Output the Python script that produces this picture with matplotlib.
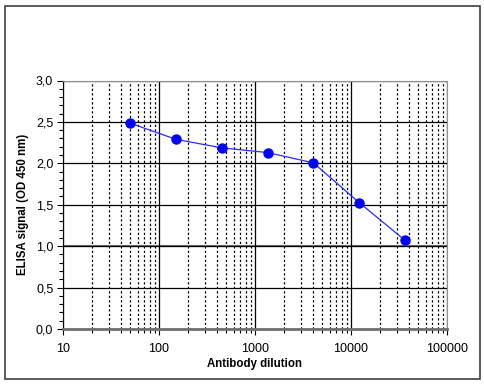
import matplotlib
matplotlib.use('Agg')
import matplotlib.pyplot as plt
from matplotlib.ticker import FuncFormatter, LogLocator, MultipleLocator
from matplotlib.patches import Rectangle

# Data
dilution = [50, 150, 450, 1350, 4050, 12150, 36450]
signal = [2.485, 2.29, 2.187, 2.13, 2.006, 1.526, 1.071]

plt.rcParams['font.family'] = ['Liberation Sans', 'DejaVu Sans']

fig = plt.figure(figsize=(4.85, 3.84), dpi=100)
fig.patch.set_facecolor('white')
fig.patches.append(Rectangle((5 / 485, 5 / 384), 475 / 485, 373 / 384,
                             transform=fig.transFigure, fill=False,
                             edgecolor='#404040', linewidth=1.2))

ax = fig.add_axes([63 / 485, 55 / 384, 384 / 485, 248.5 / 384])
ax.set_xscale('log')
ax.set_xlim(10, 100000)
ax.set_ylim(0, 3.0)

# grid
ax.xaxis.set_major_locator(LogLocator(base=10, numticks=10))
ax.xaxis.set_minor_locator(LogLocator(base=10, subs=range(2, 10), numticks=10))
ax.yaxis.set_major_locator(MultipleLocator(0.5))
ax.yaxis.set_minor_locator(MultipleLocator(0.1))
ax.grid(which='major', axis='both', color='black', linewidth=0.9, linestyle='-')
ax.grid(which='minor', axis='x', color='black', linewidth=0.9, linestyle=(0, (1.8, 1.8)))
ax.axhline(1.0, color='#707070', linewidth=1.5, zorder=1)

ax.plot(dilution, signal, color='#2a2aff', linewidth=0.9, marker='o',
        markersize=6.5, markerfacecolor='#0000ff', markeredgecolor='#0000ff',
        zorder=3, clip_on=False)

ax.xaxis.set_major_formatter(FuncFormatter(lambda v, p: '%d' % v))
ax.yaxis.set_major_formatter(FuncFormatter(lambda v, p: ('%.1f' % v).replace('.', ',')))
ax.tick_params(which='major', direction='out', length=4, width=0.8,
               labelsize=9, colors='black', pad=3)
ax.tick_params(which='minor', direction='out', length=3, width=0.8)
ax.tick_params(axis='x', which='major', pad=6)

for side in ['top', 'right']:
    ax.spines[side].set_color('#909090')
    ax.spines[side].set_linewidth(0.8)
ax.spines['left'].set_color('black')
ax.spines['left'].set_linewidth(0.8)
ax.spines['bottom'].set_color('#707070')
ax.spines['bottom'].set_linewidth(2)

ax.set_xlabel('Antibody dilution', fontsize=8.3, fontweight='bold', labelpad=2)
ax.set_ylabel('ELISA signal (OD 450 nm)', fontsize=8.3, fontweight='bold', labelpad=5)

fig.savefig('out.png', dpi=100, facecolor='white')
